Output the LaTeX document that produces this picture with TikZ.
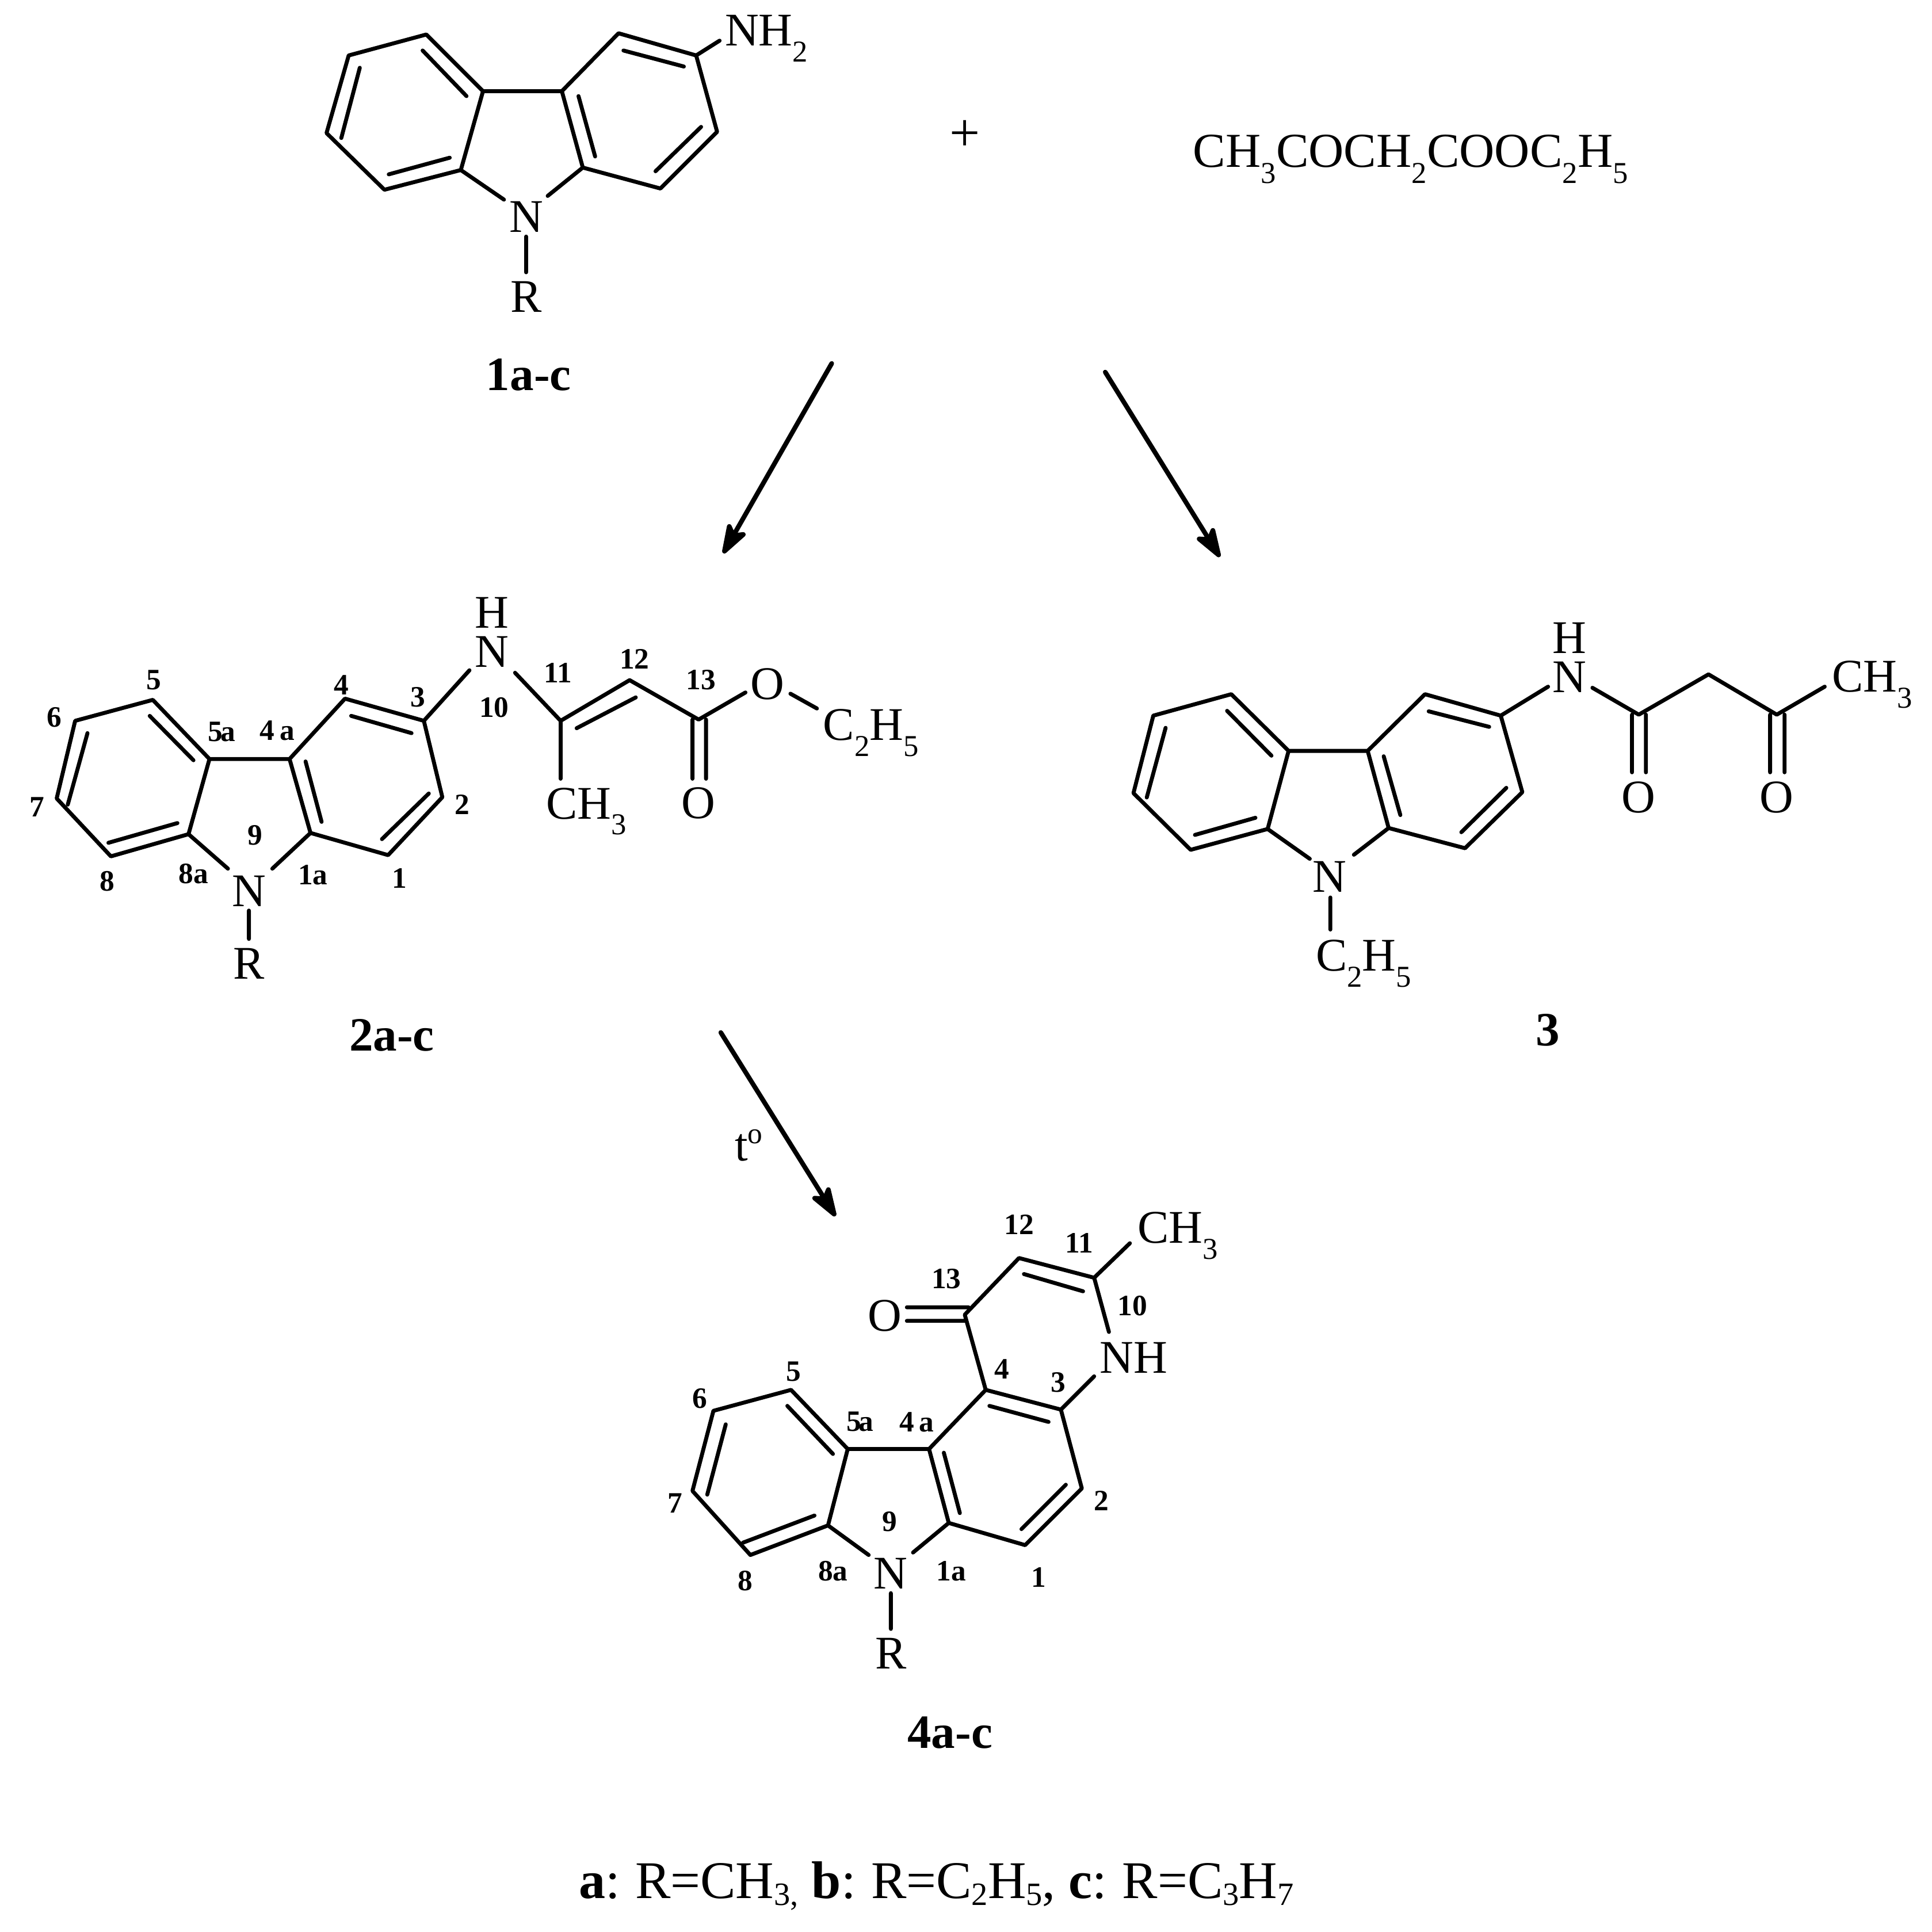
\documentclass[tikz,border=0pt]{standalone}
\usepackage{fontspec}
\setmainfont{Liberation Serif}
\usetikzlibrary{arrows.meta}
\newcommand{\sbs}[1]{\raisebox{-6.5pt}{\fontsize{12.3}{12.3}\selectfont #1}}
\newcommand{\sbb}[1]{\raisebox{-3pt}{\fontsize{13.2}{13.2}\selectfont #1}}
\tikzset{
  x=0.5pt,y=-0.5pt,
  bond/.style={line width=1.6pt,line cap=round,line join=round},
  rxn/.style={line width=1.9pt,line cap=round,-{Stealth[length=15pt,width=10pt,inset=3.5pt,round]}},
  atom/.style={inner sep=0pt,font=\fontsize{19}{19}\selectfont},
  grp/.style={inner sep=0pt,anchor=base west,font=\fontsize{19}{19}\selectfont},
  num/.style={inner sep=0pt,font=\fontsize{12}{12}\selectfont\bfseries},
  cpd/.style={inner sep=0pt,font=\fontsize{19.4}{19.4}\selectfont\bfseries},
}
\begin{document}
\begin{tikzpicture}
\useasboundingbox (0,0) rectangle (1568,1568);
% ---------- compound 1
\foreach \n/\p in {a/{346,28},b/{283,45},c/{265,108},d/{312,154},e/{374,138},f/{392,74},g/{456,74},h/{502,27},i/{565,45},j/{582,107},k/{536,153},l/{473,136},
  ne/{409,162},nl/{444.5,159},rt/{427,192},rb/{427,221},nh/{584,33},
  ia/{378.6,78},ib/{343,41},ic/{292,55},id/{277,112},ie/{315.5,141.5},if/{365,128},ig/{469.5,78},ih/{483,127},ii/{506,41},ij/{555,54},ik/{569,103},il/{532,139}}
  {\coordinate (A\n) at (\p);}
\draw[bond] (Af)--(Aa)--(Ab)--(Ac)--(Ad)--(Ae)--cycle (Af)--(Ag)--(Al)--(Ak)--(Aj)--(Ai)--(Ah)--(Ag);
\draw[bond] (Ae)--(Ane) (Al)--(Anl) (Art)--(Arb) (Ai)--(Anh);
\draw[bond] (Aia)--(Aib) (Aic)--(Aid) (Aie)--(Aif) (Aig)--(Aih) (Aii)--(Aij) (Aik)--(Ail);
\node[atom] (A1N) at (427,176) {N};
\node[atom] (A1R) at (427,241) {R};
\node[grp] (A1NH) at (588,37) {NH\sbs{2}};
\node[cpd] (lab1) at (429,304) {1a-c};
\node[atom,font=\fontsize{22}{22}\selectfont] (plus) at (783,110) {+};
\node[grp,font=\fontsize{19.8}{19.8}\selectfont] (ester) at (968,135.5) {CH\sbs{3}COCH\sbs{2}COOC\sbs{2}H\sbs{5}};
% ---------- arrows
\coordinate (r1s) at (675,295); \coordinate (r1e) at (587,449);
\coordinate (r2s) at (897,302); \coordinate (r2e) at (990,452);
\coordinate (r3s) at (585,838); \coordinate (r3e) at (678,987);
\draw[rxn] (r1s)--(r1e);
\draw[rxn] (r2s)--(r2e);
\draw[rxn] (r3s)--(r3e);
\node[grp] (heat) at (596,942) {t\raisebox{7pt}{\fontsize{12}{12}\selectfont o}};
% ---------- compound 2
\foreach \n/\p in {a/{124,568},b/{61,585},c/{46,648},d/{90,695},e/{153,677},f/{170,616},g/{235,616},h/{280,567},i/{344,585},j/{359,647},k/{315,694},l/{252,676},
  ne/{185,705},nl/{221,705},rt/{202,739},rb/{202,762},nha/{381,544},nhb/{418,546},m/{455,585},n/{511,552},o/{567,584},
  ch/{455,632},oa/{605,562},ob/{641.5,563},oc/{663,575},ca/{562,584},cb/{562,632},cc/{573,584},cd/{573,632},
  ia/{121.5,581},ib/{157,617},ic/{71,595},id/{55,653},ie/{88,684},if/{144,668},ig/{248,618},ih/{261,667},ii/{285,581},ij/{334,595},ik/{348,644},il/{310,681},im/{468,591},in/{516,566}}
  {\coordinate (B\n) at (\p);}
\draw[bond] (Bf)--(Ba)--(Bb)--(Bc)--(Bd)--(Be)--cycle (Bf)--(Bg)--(Bl)--(Bk)--(Bj)--(Bi)--(Bh)--(Bg);
\draw[bond] (Be)--(Bne) (Bl)--(Bnl) (Brt)--(Brb) (Bi)--(Bnha) (Bnhb)--(Bm)--(Bn)--(Bo)--(Boa) (Bm)--(Bch) (Bob)--(Boc) (Bca)--(Bcb) (Bcc)--(Bcd);
\draw[bond] (Bia)--(Bib) (Bic)--(Bid) (Bie)--(Bif) (Big)--(Bih) (Bii)--(Bij) (Bik)--(Bil) (Bim)--(Bin);
\node[atom] (B2N) at (202,723) {N};
\node[atom] (B2R) at (202,782) {R};
\node[atom] (B2H) at (399,497) {H};
\node[atom] (B2NH) at (399,529) {N};
\node[grp] (B2Me) at (443,664.5) {CH\sbs{3}};
\node[atom] (B2O1) at (623,555) {O};
\node[atom] (B2O2) at (567,652) {O};
\node[grp] (B2Et) at (667.7,600.6) {C\sbs{2}H\sbs{5}};
\node[cpd] (lab2) at (318,840) {2a-c};
\node[num] (b5) at (125,552) {5};
\node[num] (b6) at (44,582) {6};
\node[num] (b7) at (30,655) {7};
\node[num] (b8) at (87,715) {8};
\node[num] (b8a) at (157,709) {8a};
\node[num] (b5a) at (180,594) {5\kern-1pt a};
\node[num] (b4a) at (225,593) {4\,a};
\node[num] (b4) at (277,556) {4};
\node[num] (b3) at (339,566) {3};
\node[num] (b2) at (375,653) {2};
\node[num] (b1) at (324,713) {1};
\node[num] (b1a) at (254,710) {1a};
\node[num] (b9) at (207,678) {9};
\node[num] (b10) at (401,574) {10};
\node[num] (b11) at (453,546) {11};
\node[num] (b12) at (515,535) {12};
\node[num] (b13) at (569,552) {13};
% ---------- compound 3
\foreach \n/\p in {a/{999.3,563.4},b/{936,580.8},c/{919.9,643.7},d/{966.3,689.7},e/{1028.8,672.8},f/{1045.8,609.4},g/{1110,609.4},h/{1156.5,563.4},i/{1218,580.8},j/{1235.5,642.9},k/{1189,688.4},l/{1127,672},
  ne/{1063,697},nl/{1098.8,693.7},rt/{1079.7,728.4},rb/{1079.7,754.4},nha/{1256.4,557.3},nhb/{1292.4,558.2},m/{1330,580},n/{1386.6,547.3},o/{1442,580},me/{1480.9,557.3},
  ca/{1324.5,580},cb/{1324.5,626.8},cc/{1335.8,580},cd/{1335.8,626.8},da/{1436.6,580},db/{1436.6,626.8},dc/{1448.3,580},dd/{1448.3,626.8},
  ia/{1031.9,613.3},ib/{995.9,576.9},ic/{946,590.7},id/{930.7,647.2},ie/{969.8,677.6},if/{1018.9,663.7},ig/{1123,613.8},ih/{1136.5,661.5},ii/{1159.5,577.3},ij/{1208.6,589.9},ik/{1222.5,639.4},il/{1186,675.4}}
  {\coordinate (C\n) at (\p);}
\draw[bond] (Cf)--(Ca)--(Cb)--(Cc)--(Cd)--(Ce)--cycle (Cf)--(Cg)--(Cl)--(Ck)--(Cj)--(Ci)--(Ch)--(Cg);
\draw[bond] (Ce)--(Cne) (Cl)--(Cnl) (Crt)--(Crb) (Ci)--(Cnha) (Cnhb)--(Cm)--(Cn)--(Co)--(Cme) (Cca)--(Ccb) (Ccc)--(Ccd) (Cda)--(Cdb) (Cdc)--(Cdd);
\draw[bond] (Cia)--(Cib) (Cic)--(Cid) (Cie)--(Cif) (Cig)--(Cih) (Cii)--(Cij) (Cik)--(Cil);
\node[atom] (C3N) at (1079.2,711.5) {N};
\node[grp] (C3Et) at (1067.5,788) {C\sbs{2}H\sbs{5}};
\node[atom] (C3NH) at (1273.7,549.5) {N};
\node[atom] (C3H) at (1273.7,518) {H};
\node[atom] (C3O1) at (1330,647) {O};
\node[atom] (C3O2) at (1442,647) {O};
\node[grp] (C3Me) at (1486.5,561.7) {CH\sbs{3}};
\node[cpd] (lab3) at (1256,836) {3};
% ---------- compound 4
\foreach \n/\p in {a/{642,1128},b/{579,1145},c/{562,1210},d/{609,1262},e/{672,1238},f/{688,1176},g/{754,1176},h/{800,1128},i/{861,1144},j/{878,1208},k/{832,1254},l/{770,1236},
  ne/{705,1262},nl/{741,1260},rt/{723,1293},rb/{723,1322},m/{783,1067},n/{827,1021},o/{888,1037},nha/{900,1081},nhb/{888,1117},me/{917,1009},
  ca/{736,1061},cb/{786,1061},cc/{736,1072},cd/{783,1072},
  ia/{676,1180},ib/{639,1141},ic/{589,1156},id/{574,1213},ie/{603,1252},if/{661,1230},ig/{766,1179},ih/{779,1228},ii/{803,1141},ij/{851,1154},ik/{865,1205},il/{829,1241},im/{831,1034},in/{879,1048}}
  {\coordinate (D\n) at (\p);}
\draw[bond] (Df)--(Da)--(Db)--(Dc)--(Dd)--(De)--cycle (Df)--(Dg)--(Dl)--(Dk)--(Dj)--(Di)--(Dh)--(Dg);
\draw[bond] (De)--(Dne) (Dl)--(Dnl) (Drt)--(Drb) (Dh)--(Dm)--(Dn)--(Do)--(Dnha) (Do)--(Dme) (Di)--(Dnhb) (Dca)--(Dcb) (Dcc)--(Dcd);
\draw[bond] (Dia)--(Dib) (Dic)--(Did) (Die)--(Dif) (Dig)--(Dih) (Dii)--(Dij) (Dik)--(Dil) (Dim)--(Din);
\node[atom] (D4N) at (723,1277) {N};
\node[atom] (D4R) at (723,1342) {R};
\node[atom] (D4NH) at (920,1102) {NH};
\node[atom] (D4O) at (718,1068) {O};
\node[grp] (D4Me) at (923,1009) {CH\sbs{3}};
\node[cpd] (lab4) at (771,1406) {4a-c};
\node[num] (d5) at (644,1113) {5};
\node[num] (d6) at (568,1135) {6};
\node[num] (d7) at (548,1220) {7};
\node[num] (d8) at (605,1283) {8};
\node[num] (d8a) at (676,1275) {8a};
\node[num] (d5a) at (698,1154) {5\kern-1pt a};
\node[num] (d4a) at (744,1154) {4\,a};
\node[num] (d4) at (813,1111) {4};
\node[num] (d3) at (859,1122) {3};
\node[num] (d2) at (894,1218) {2};
\node[num] (d1) at (843,1280) {1};
\node[num] (d1a) at (772,1275) {1a};
\node[num] (d9) at (722,1235) {9};
\node[num] (d10) at (919,1060) {10};
\node[num] (d11) at (876,1009) {11};
\node[num] (d12) at (827,994) {12};
\node[num] (d13) at (768,1038) {13};
% ---------- legend
\node[grp,font=\fontsize{21.5}{21.5}\selectfont] (legend) at (469.4,1540.5) {\textbf{a}:\kern-1pt{} R=CH\sbb{3,} \textbf{b}:\kern-1pt{} R=C\sbb{2}H\sbb{5}, \textbf{c}:\kern-1pt{} R=C\sbb{3}H\sbb{7}};
\end{tikzpicture}
\end{document}
